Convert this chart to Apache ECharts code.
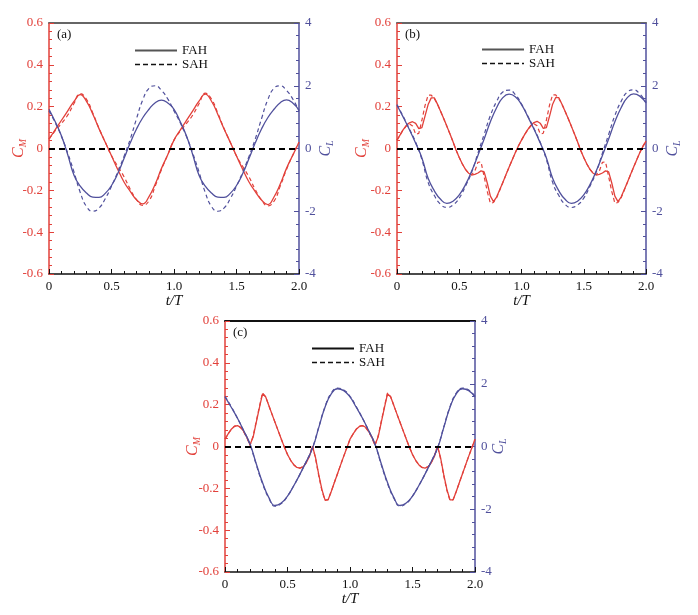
<!DOCTYPE html>
<html>
<head>
<meta charset="utf-8">
<script src="https://cdn.jsdelivr.net/npm/echarts@6/dist/echarts.min.js"></script>
<style>
  html, body { margin: 0; padding: 0; background: #fff; }
  #chart { width: 698px; height: 615px; }
</style>
</head>
<body>
<div id="chart"></div>
<script>
// t/T samples
var tCoarse = [0, 0.05, 0.1, 0.15, 0.2, 0.25, 0.3, 0.35, 0.4, 0.45, 0.5, 0.55, 0.6, 0.65, 0.7, 0.75, 0.8, 0.85, 0.9, 0.95, 1.0,
  1.05, 1.1, 1.15, 1.2, 1.25, 1.3, 1.35, 1.4, 1.45, 1.5, 1.55, 1.6, 1.65, 1.7, 1.75, 1.8, 1.85, 1.9, 1.95, 2.0];
var tFine = [0, 0.025, 0.05, 0.075, 0.1, 0.125, 0.15, 0.175, 0.2, 0.225, 0.25, 0.275, 0.3, 0.325, 0.35, 0.375, 0.4, 0.425, 0.45, 0.475,
  0.5, 0.525, 0.55, 0.575, 0.6, 0.625, 0.65, 0.675, 0.7, 0.725, 0.75, 0.775, 0.8, 0.825, 0.85, 0.875, 0.9, 0.925, 0.95, 0.975,
  1.0, 1.025, 1.05, 1.075, 1.1, 1.125, 1.15, 1.175, 1.2, 1.225, 1.25, 1.275, 1.3, 1.325, 1.35, 1.375, 1.4, 1.425, 1.45, 1.475,
  1.5, 1.525, 1.55, 1.575, 1.6, 1.625, 1.65, 1.675, 1.7, 1.725, 1.75, 1.775, 1.8, 1.825, 1.85, 1.875, 1.9, 1.925, 1.95, 1.975, 2.0];

var xTickLabels = ['0', '0.5', '1.0', '1.5', '2.0'];
var panelLabels = ['(a)', '(b)', '(c)'];

// (a) on tCoarse
var cmA_FAH = [0.045, 0.09, 0.135, 0.18, 0.225, 0.258, 0.225, 0.165, 0.095, 0.03, -0.035, -0.1, -0.16, -0.205, -0.245, -0.265, -0.23, -0.17, -0.095, -0.03, 0.04,
  0.088, 0.134, 0.18, 0.226, 0.26, 0.226, 0.164, 0.094, 0.03, -0.036, -0.1, -0.16, -0.206, -0.246, -0.268, -0.232, -0.17, -0.095, -0.032, 0.03];
var cmA_SAH = [0.045, 0.085, 0.12, 0.16, 0.215, 0.262, 0.235, 0.17, 0.097, 0.03, -0.035, -0.085, -0.135, -0.195, -0.245, -0.272, -0.25, -0.18, -0.1, -0.03, 0.04,
  0.083, 0.12, 0.16, 0.214, 0.265, 0.236, 0.17, 0.096, 0.03, -0.036, -0.086, -0.136, -0.196, -0.246, -0.274, -0.252, -0.18, -0.1, -0.032, 0.03];
var clA_FAH = [1.25, 0.85, 0.4, -0.2, -0.85, -1.2, -1.42, -1.55, -1.56, -1.43, -1.18, -0.8, -0.32, 0.18, 0.62, 0.98, 1.25, 1.46, 1.54, 1.45, 1.25,
  0.85, 0.4, -0.2, -0.85, -1.2, -1.42, -1.55, -1.56, -1.43, -1.18, -0.8, -0.32, 0.18, 0.62, 0.98, 1.25, 1.46, 1.55, 1.45, 1.22];
var clA_SAH = [1.2, 0.82, 0.38, -0.15, -0.75, -1.4, -1.85, -2.0, -1.9, -1.6, -1.2, -0.75, -0.25, 0.3, 0.95, 1.55, 1.92, 2.0, 1.85, 1.58, 1.2,
  0.82, 0.38, -0.15, -0.75, -1.4, -1.85, -2.0, -1.9, -1.6, -1.2, -0.75, -0.25, 0.3, 0.95, 1.55, 1.92, 2.0, 1.85, 1.58, 1.2];

// (b): CM on tFine, CL on tCoarse
var cmB_FAH = [0.04, 0.065, 0.09, 0.11, 0.123, 0.128, 0.12, 0.095, 0.1, 0.155, 0.21, 0.242, 0.242, 0.212, 0.178, 0.143, 0.107, 0.07, 0.032, -0.008,
  -0.043, -0.074, -0.1, -0.118, -0.127, -0.124, -0.117, -0.107, -0.112, -0.165, -0.228, -0.254, -0.232, -0.197, -0.162, -0.126, -0.09, -0.055, -0.02, 0.012,
  0.04, 0.066, 0.09, 0.11, 0.124, 0.13, 0.121, 0.096, 0.1, 0.154, 0.212, 0.244, 0.243, 0.212, 0.178, 0.143, 0.107, 0.07, 0.032, -0.008,
  -0.043, -0.074, -0.1, -0.118, -0.127, -0.124, -0.117, -0.107, -0.112, -0.165, -0.228, -0.254, -0.232, -0.197, -0.162, -0.126, -0.09, -0.055, -0.02, 0.01, 0.035];
var cmB_SAH = [0.04, 0.065, 0.09, 0.108, 0.118, 0.108, 0.068, 0.072, 0.135, 0.205, 0.255, 0.255, 0.238, 0.212, 0.178, 0.143, 0.107, 0.07, 0.032, -0.008,
  -0.043, -0.074, -0.1, -0.118, -0.125, -0.108, -0.066, -0.064, -0.135, -0.205, -0.262, -0.258, -0.236, -0.2, -0.163, -0.126, -0.09, -0.055, -0.02, 0.012,
  0.04, 0.066, 0.09, 0.108, 0.119, 0.109, 0.07, 0.073, 0.136, 0.207, 0.257, 0.256, 0.238, 0.212, 0.178, 0.143, 0.107, 0.07, 0.032, -0.008,
  -0.043, -0.074, -0.1, -0.118, -0.125, -0.108, -0.066, -0.064, -0.135, -0.205, -0.262, -0.258, -0.236, -0.2, -0.163, -0.126, -0.09, -0.055, -0.02, 0.01, 0.035];
var clB_FAH = [1.38, 1.0, 0.6, 0.17, -0.3, -0.95, -1.35, -1.62, -1.75, -1.68, -1.48, -1.15, -0.72, -0.22, 0.3, 0.85, 1.3, 1.62, 1.73, 1.65, 1.4,
  1.02, 0.62, 0.18, -0.3, -0.95, -1.35, -1.62, -1.75, -1.68, -1.48, -1.15, -0.72, -0.22, 0.3, 0.85, 1.3, 1.62, 1.74, 1.67, 1.45];
var clB_SAH = [1.4, 1.02, 0.62, 0.2, -0.35, -1.08, -1.5, -1.78, -1.88, -1.8, -1.58, -1.2, -0.75, -0.15, 0.45, 1.05, 1.5, 1.8, 1.86, 1.72, 1.42,
  1.04, 0.64, 0.2, -0.35, -1.08, -1.5, -1.78, -1.88, -1.8, -1.58, -1.2, -0.75, -0.15, 0.45, 1.05, 1.5, 1.8, 1.87, 1.74, 1.47];

// (c): CM on tFine, CL on tCoarse
var cmC_FAH = [0.035, 0.06, 0.082, 0.096, 0.1, 0.092, 0.072, 0.045, 0.008, 0.045, 0.115, 0.185, 0.252, 0.238, 0.197, 0.156, 0.116, 0.076, 0.036, -0.003,
  -0.038, -0.066, -0.087, -0.1, -0.103, -0.097, -0.078, -0.048, 0.002, -0.055, -0.135, -0.205, -0.255, -0.255, -0.215, -0.172, -0.13, -0.088, -0.046, -0.006,
  0.035, 0.06, 0.082, 0.096, 0.1, 0.092, 0.072, 0.045, 0.008, 0.045, 0.115, 0.185, 0.252, 0.238, 0.197, 0.156, 0.116, 0.076, 0.036, -0.003,
  -0.038, -0.066, -0.087, -0.1, -0.103, -0.097, -0.078, -0.048, 0.002, -0.055, -0.135, -0.205, -0.255, -0.255, -0.215, -0.172, -0.13, -0.088, -0.046, -0.006, 0.035];
var cmC_SAH = [0.035, 0.06, 0.083, 0.097, 0.1, 0.09, 0.07, 0.042, 0.005, 0.05, 0.12, 0.19, 0.256, 0.238, 0.197, 0.156, 0.116, 0.076, 0.036, -0.003,
  -0.038, -0.066, -0.087, -0.1, -0.103, -0.096, -0.077, -0.045, 0.004, -0.06, -0.14, -0.21, -0.258, -0.254, -0.215, -0.172, -0.13, -0.088, -0.046, -0.006,
  0.035, 0.06, 0.083, 0.097, 0.1, 0.09, 0.07, 0.042, 0.005, 0.05, 0.12, 0.19, 0.256, 0.238, 0.197, 0.156, 0.116, 0.076, 0.036, -0.003,
  -0.038, -0.066, -0.087, -0.1, -0.103, -0.096, -0.077, -0.045, 0.004, -0.06, -0.14, -0.21, -0.258, -0.254, -0.215, -0.172, -0.13, -0.088, -0.046, -0.006, 0.035];
var clC_FAH = [1.58, 1.25, 0.9, 0.5, 0.08, -0.55, -1.15, -1.62, -1.88, -1.8, -1.58, -1.25, -0.88, -0.48, -0.06, 0.6, 1.25, 1.68, 1.84, 1.78, 1.58,
  1.25, 0.9, 0.5, 0.08, -0.55, -1.15, -1.62, -1.88, -1.8, -1.58, -1.25, -0.88, -0.48, -0.06, 0.6, 1.25, 1.68, 1.84, 1.78, 1.58];
var clC_SAH = [1.6, 1.27, 0.9, 0.5, 0.06, -0.58, -1.18, -1.64, -1.9, -1.82, -1.58, -1.25, -0.88, -0.48, -0.04, 0.62, 1.27, 1.7, 1.86, 1.8, 1.6,
  1.27, 0.9, 0.5, 0.06, -0.58, -1.18, -1.64, -1.9, -1.82, -1.58, -1.25, -0.88, -0.48, -0.04, 0.62, 1.27, 1.7, 1.86, 1.8, 1.6];

var RED = '#e2403a';
var BLUE = '#50509c';
var FONT = "'Liberation Serif', 'DejaVu Serif', serif";

function pairs(ts, vs) {
  return ts.map(function (t, i) { return [t, vs[i]]; });
}

var panels = [
  { grid: { left: 49, top: 23, width: 250, height: 251 }, top: '#666', legend: [134, 44], gapL: 21, gapR: 18,
    cm: [tCoarse, cmA_FAH, cmA_SAH], cl: [tCoarse, clA_FAH, clA_SAH], smoothCm: true },
  { grid: { left: 397, top: 23, width: 249, height: 251 }, top: '#666', legend: [481, 43], gapL: 26, gapR: 18,
    cm: [tFine, cmB_FAH, cmB_SAH], cl: [tCoarse, clB_FAH, clB_SAH], smoothCm: false },
  { grid: { left: 225, top: 321, width: 250, height: 251 }, top: '#111', legend: [311, 342], gapL: 23, gapR: 15,
    cm: [tFine, cmC_FAH, cmC_SAH], cl: [tCoarse, clC_FAH, clC_SAH], smoothCm: false }
];

var option = {
  animation: false,
  backgroundColor: '#fff',
  grid: [], xAxis: [], yAxis: [], series: [], legend: [], graphic: []
};

panels.forEach(function (p, i) {
  option.grid.push(p.grid);
  // bottom axis
  option.xAxis.push({
    gridIndex: i, type: 'value', min: 0, max: 2, interval: 0.5,
    axisLine: { onZero: false, lineStyle: { color: '#111', width: 1.5 } },
    axisTick: { inside: true, length: 5, lineStyle: { color: '#111' } },
    minorTick: { show: true, splitNumber: 5, length: 3, lineStyle: { color: '#111' } },
    splitLine: { show: false },
    axisLabel: { color: '#111', fontFamily: FONT, fontSize: 13, margin: 6,
      formatter: function (v) { return xTickLabels[Math.round(v / 0.5)]; } },
    name: 't/T', nameLocation: 'middle', nameGap: 17,
    nameTextStyle: { color: '#111', fontFamily: FONT, fontSize: 15, fontStyle: 'italic' }
  });
  // top frame line
  option.xAxis.push({
    gridIndex: i, type: 'value', min: 0, max: 2, position: 'top',
    axisLine: { onZero: false, lineStyle: { color: p.top, width: 2 } },
    axisTick: { show: false }, axisLabel: { show: false }, splitLine: { show: false }
  });
  option.yAxis.push({
    gridIndex: i, type: 'value', min: -0.6, max: 0.6, interval: 0.2, position: 'left',
    axisLine: { show: true, onZero: false, lineStyle: { color: RED, width: 1.5 } },
    axisTick: { show: true, inside: true, length: 5 },
    minorTick: { show: true, splitNumber: 5, length: 3 },
    splitLine: { show: false },
    axisLabel: { color: RED, fontFamily: FONT, fontSize: 13, margin: 6 },
    name: '{c|C}{s|M}', nameLocation: 'middle', nameGap: p.gapL, nameRotate: 90, nameMoveOverlap: false,
    nameTextStyle: { color: RED, fontFamily: FONT,
      rich: { c: { fontSize: 16, fontStyle: 'italic', fontFamily: FONT, color: RED },
              s: { fontSize: 10, fontStyle: 'italic', fontFamily: FONT, color: RED, padding: [8, 0, 0, 0] } } }
  });
  option.yAxis.push({
    gridIndex: i, type: 'value', min: -4, max: 4, interval: 2, position: 'right',
    axisLine: { show: true, onZero: false, lineStyle: { color: BLUE, width: 1.5 } },
    axisTick: { show: true, inside: true, length: 5 },
    minorTick: { show: true, splitNumber: 5, length: 3 },
    splitLine: { show: false },
    axisLabel: { color: BLUE, fontFamily: FONT, fontSize: 13, margin: 6 },
    name: '{c|C}{s|L}', nameLocation: 'middle', nameGap: p.gapR, nameRotate: 90, nameMoveOverlap: false,
    nameTextStyle: { color: BLUE, fontFamily: FONT,
      rich: { c: { fontSize: 16, fontStyle: 'italic', fontFamily: FONT, color: BLUE },
              s: { fontSize: 10, fontStyle: 'italic', fontFamily: FONT, color: BLUE, padding: [8, 0, 0, 0] } } }
  });

  option.series.push({
    name: 'FAH', type: 'line', xAxisIndex: 2 * i, yAxisIndex: 2 * i,
    data: pairs(p.cm[0], p.cm[1]), symbol: 'none', smooth: p.smoothCm,
    itemStyle: { color: RED }, lineStyle: { color: RED, width: 1.3 },
    markLine: { silent: true, symbol: ['none', 'none'], label: { show: false },
      lineStyle: { color: '#000', type: [6, 4], width: 1.8 }, data: [{ yAxis: 0 }] }
  });
  option.series.push({
    name: 'SAH', type: 'line', xAxisIndex: 2 * i, yAxisIndex: 2 * i,
    data: pairs(p.cm[0], p.cm[2]), symbol: 'none', smooth: p.smoothCm,
    itemStyle: { color: RED }, lineStyle: { color: RED, width: 1.2, type: [4, 3] }
  });
  option.series.push({
    name: 'FAH', type: 'line', xAxisIndex: 2 * i, yAxisIndex: 2 * i + 1,
    data: pairs(p.cl[0], p.cl[1]), symbol: 'none', smooth: true,
    itemStyle: { color: BLUE }, lineStyle: { color: BLUE, width: 1.3 }
  });
  option.series.push({
    name: 'SAH', type: 'line', xAxisIndex: 2 * i, yAxisIndex: 2 * i + 1,
    data: pairs(p.cl[0], p.cl[2]), symbol: 'none', smooth: true,
    itemStyle: { color: BLUE }, lineStyle: { color: BLUE, width: 1.2, type: [4, 3] }
  });

  option.legend.push({
    left: p.legend[0], top: p.legend[1], orient: 'vertical', padding: 0,
    itemWidth: 42, itemHeight: 10, itemGap: 1, selectedMode: false,
    textStyle: { color: '#111', fontFamily: FONT, fontSize: 13 },
    itemStyle: { color: 'transparent', borderColor: 'transparent', borderWidth: 0, opacity: 0 },
    data: [
      { name: 'FAH', lineStyle: { color: i === 2 ? '#111' : '#555', width: 2, type: 'solid' } },
      { name: 'SAH', lineStyle: { color: '#111', width: 1.4, type: [5, 3] } }
    ]
  });

  option.graphic.push({
    type: 'text', left: p.grid.left + 8, top: p.grid.top + 5,
    style: { text: panelLabels[i], fill: '#111', font: '13px ' + FONT }
  });
});

var chart = echarts.init(document.getElementById('chart'));
chart.setOption(option);
</script>
</body>
</html>
